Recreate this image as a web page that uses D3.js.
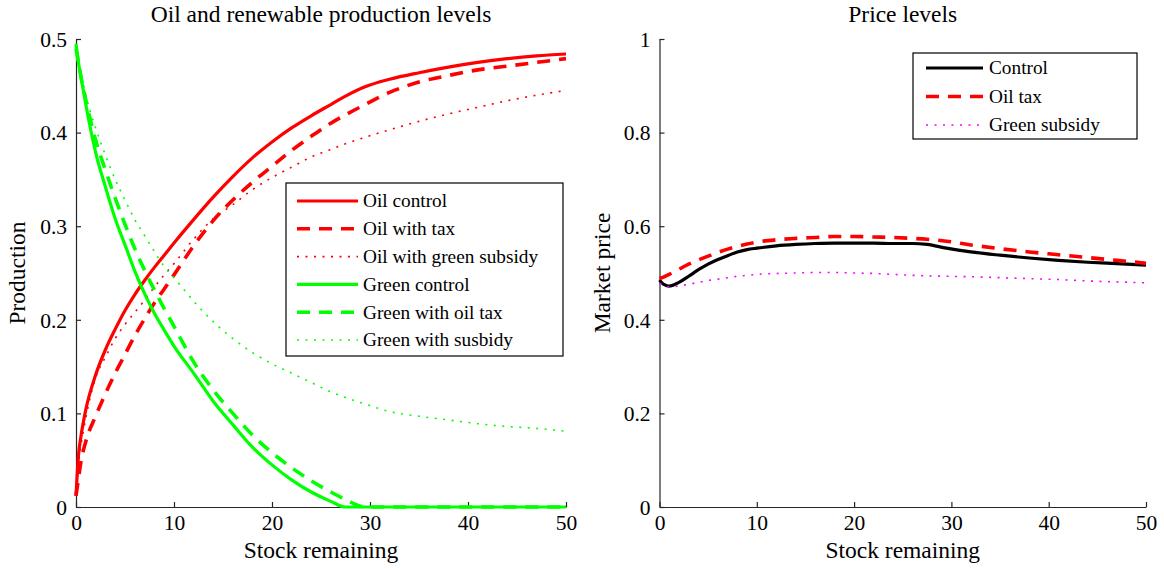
<!DOCTYPE html>
<html>
<head>
<meta charset="utf-8">
<script src="https://cdn.jsdelivr.net/npm/d3@7/dist/d3.min.js"></script>
<style>
  html, body { margin: 0; padding: 0; background: #fff; }
  svg { display: block; }
  text { font-family: "Liberation Serif", "Times New Roman", serif; fill: #000; }
</style>
</head>
<body>
<svg id="chart" width="1164" height="569"></svg>
<script>
// ---------- data ----------
const stock = [0, 0.25, 0.5, 1, 2, 3, 4, 5, 6, 7, 8, 9, 10, 12, 14, 16, 18, 20, 22, 24, 26, 27.5, 29.5, 32, 35, 38, 41, 44, 47, 50];

const oilControl   = [0.012, 0.055, 0.075, 0.104, 0.141, 0.168, 0.190, 0.210, 0.227, 0.242, 0.256, 0.269, 0.282, 0.307, 0.331, 0.353, 0.373, 0.390, 0.405, 0.418, 0.430, 0.439, 0.449, 0.457, 0.464, 0.470, 0.475, 0.479, 0.482, 0.484];
const oilTax       = [0.012, 0.030, 0.048, 0.070, 0.097, 0.121, 0.143, 0.163, 0.183, 0.201, 0.218, 0.233, 0.248, 0.279, 0.306, 0.328, 0.347, 0.364, 0.381, 0.396, 0.410, 0.419, 0.430, 0.443, 0.454, 0.461, 0.467, 0.471, 0.475, 0.479];
const oilSubsidy   = [0.015, 0.045, 0.065, 0.095, 0.138, 0.160, 0.180, 0.195, 0.208, 0.221, 0.235, 0.248, 0.260, 0.286, 0.308, 0.323, 0.339, 0.352, 0.363, 0.374, 0.382, 0.388, 0.395, 0.403, 0.412, 0.420, 0.427, 0.434, 0.440, 0.445];
const greenControl = [0.495, 0.475, 0.460, 0.430, 0.379, 0.342, 0.308, 0.280, 0.252, 0.228, 0.207, 0.189, 0.172, 0.143, 0.113, 0.088, 0.064, 0.045, 0.029, 0.016, 0.006, 0.000, 0.000, 0.000, 0.000, 0.000, 0.000, 0.000, 0.000, 0.000];
const greenTax     = [0.490, 0.475, 0.460, 0.435, 0.392, 0.360, 0.330, 0.302, 0.276, 0.253, 0.232, 0.212, 0.193, 0.155, 0.125, 0.100, 0.077, 0.058, 0.042, 0.028, 0.016, 0.008, 0.000, 0.000, 0.000, 0.000, 0.000, 0.000, 0.000, 0.000];
const greenSubsidy = [0.495, 0.480, 0.465, 0.440, 0.405, 0.376, 0.350, 0.328, 0.307, 0.290, 0.273, 0.257, 0.245, 0.220, 0.198, 0.180, 0.165, 0.153, 0.143, 0.133, 0.123, 0.117, 0.110, 0.102, 0.097, 0.093, 0.089, 0.086, 0.084, 0.081];

const priceControl = [0.485, 0.479, 0.475, 0.472, 0.480, 0.493, 0.507, 0.519, 0.529, 0.537, 0.545, 0.550, 0.553, 0.558, 0.561, 0.563, 0.564, 0.564, 0.564, 0.563, 0.563, 0.561, 0.553, 0.545, 0.538, 0.532, 0.527, 0.523, 0.520, 0.517];
const priceTax     = [0.489, 0.490, 0.492, 0.497, 0.508, 0.519, 0.528, 0.536, 0.544, 0.551, 0.557, 0.562, 0.566, 0.571, 0.574, 0.576, 0.578, 0.578, 0.577, 0.576, 0.574, 0.572, 0.568, 0.560, 0.552, 0.545, 0.539, 0.533, 0.527, 0.521];
const priceSubsidy = [0.478, 0.475, 0.472, 0.470, 0.472, 0.476, 0.480, 0.484, 0.487, 0.490, 0.493, 0.495, 0.497, 0.499, 0.500, 0.501, 0.501, 0.500, 0.499, 0.497, 0.495, 0.494, 0.493, 0.492, 0.490, 0.488, 0.486, 0.483, 0.481, 0.479];

const xTicks = [0, 10, 20, 30, 40, 50];
const xTickLabels = ["0", "10", "20", "30", "40", "50"];
const prodTicks = [0, 0.1, 0.2, 0.3, 0.4, 0.5];
const prodTickLabels = ["0", "0.1", "0.2", "0.3", "0.4", "0.5"];
const priceTicks = [0, 0.2, 0.4, 0.6, 0.8, 1];
const priceTickLabels = ["0", "0.2", "0.4", "0.6", "0.8", "1"];

const leftNames = ["Oil control", "Oil with tax", "Oil with green subsidy", "Green control", "Green with oil tax", "Green with susbidy"];
const rightNames = ["Control", "Oil tax", "Green subsidy"];

// ---------- styles ----------
const STY = {
  solid:  { w: 3.2, dash: null },
  dashed: { w: 3.6, dash: "13,9" },
  dotted: { w: 1.6, dash: "2,6.5" }
};
const leftSeries = [
  { name: leftNames[0], vals: oilControl,   color: "#ff0000", sty: "solid" },
  { name: leftNames[1], vals: oilTax,       color: "#ff0000", sty: "dashed" },
  { name: leftNames[2], vals: oilSubsidy,   color: "#ff0000", sty: "dotted" },
  { name: leftNames[3], vals: greenControl, color: "#00ff00", sty: "solid" },
  { name: leftNames[4], vals: greenTax,     color: "#00ff00", sty: "dashed" },
  { name: leftNames[5], vals: greenSubsidy, color: "#00ff00", sty: "dotted" }
];
const rightSeries = [
  { name: rightNames[0], vals: priceControl, color: "#000000", sty: "solid" },
  { name: rightNames[1], vals: priceTax,     color: "#ff0000", sty: "dashed" },
  { name: rightNames[2], vals: priceSubsidy, color: "#ff00ff", sty: "dotted" }
];

const svg = d3.select("#chart");
const FONT_TICK = 21.5, FONT_LABEL = 23.5, FONT_LEG = 19.3;

function panel(cfg) {
  const x = d3.scaleLinear().domain([0, 50]).range([cfg.x0, cfg.x1]);
  const y = d3.scaleLinear().domain(cfg.yDomain).range([507, 39]);
  const g = svg.append("g");

  const xa = g.append("g").attr("transform", "translate(0,507)")
    .call(d3.axisBottom(x).tickValues(xTicks).tickFormat((d, i) => xTickLabels[i])
      .tickSizeInner(-5).tickSizeOuter(0).tickPadding(7));
  const ya = g.append("g").attr("transform", `translate(${cfg.x0},0)`)
    .call(d3.axisLeft(y).tickValues(cfg.ticks).tickFormat((d, i) => cfg.tickLabels[i])
      .tickSizeInner(-5).tickSizeOuter(0).tickPadding(9));
  [xa, ya].forEach(a => {
    a.selectAll("path.domain").attr("stroke", "#262626").attr("stroke-width", 1.2);
    a.selectAll(".tick line").attr("stroke", "#262626").attr("stroke-width", 1.2);
    a.selectAll(".tick text").attr("font-size", FONT_TICK).attr("font-family", '"Liberation Serif", serif').attr("fill", "#000");
  });
  ya.selectAll(".tick text").attr("dy", "0.34em");
  xa.selectAll(".tick text").attr("dy", "0.74em");

  const line = d3.line().x((d, i) => x(stock[i])).y(d => y(d)).curve(d3.curveMonotoneX);
  cfg.series.forEach(s => {
    g.append("path").attr("d", line(s.vals)).attr("fill", "none")
      .attr("stroke", s.color).attr("stroke-width", STY[s.sty].w)
      .attr("stroke-dasharray", STY[s.sty].dash).attr("stroke-linejoin", "round");
  });

  g.append("text").attr("x", (cfg.x0 + cfg.x1) / 2).attr("y", 22).attr("text-anchor", "middle")
    .attr("font-size", FONT_LABEL).text(cfg.title);
  g.append("text").attr("x", (cfg.x0 + cfg.x1) / 2).attr("y", 558).attr("text-anchor", "middle")
    .attr("font-size", FONT_LABEL).text("Stock remaining");
  g.append("text").attr("transform", `translate(${cfg.ylabX},273) rotate(-90)`).attr("text-anchor", "middle")
    .attr("font-size", FONT_LABEL).text(cfg.ylabel);

  // legend
  const L = cfg.legend;
  const lg = g.append("g");
  lg.append("rect").attr("x", L.x).attr("y", L.y).attr("width", L.w).attr("height", L.h)
    .attr("fill", "#fff").attr("stroke", "#000").attr("stroke-width", 1.2);
  cfg.series.forEach((s, i) => {
    const yy = L.rowY0 + i * L.rowStep;
    lg.append("line").attr("x1", L.lx0).attr("x2", L.lx1).attr("y1", yy).attr("y2", yy)
      .attr("stroke", s.color).attr("stroke-width", STY[s.sty].w)
      .attr("stroke-dasharray", STY[s.sty].dash);
    lg.append("text").attr("x", L.tx).attr("y", yy).attr("dy", "0.33em")
      .attr("font-size", FONT_LEG).text(s.name);
  });
}

panel({
  x0: 76, x1: 566, yDomain: [0, 0.5], ticks: prodTicks, tickLabels: prodTickLabels,
  series: leftSeries, title: "Oil and renewable production levels", ylabel: "Production", ylabX: 25,
  legend: { x: 286, y: 183, w: 277, h: 173, rowY0: 201, rowStep: 27.8, lx0: 297, lx1: 358, tx: 363 }
});
panel({
  x0: 659.5, x1: 1146, yDomain: [0, 1], ticks: priceTicks, tickLabels: priceTickLabels,
  series: rightSeries, title: "Price levels", ylabel: "Market price", ylabX: 610,
  legend: { x: 913, y: 53, w: 224, h: 86, rowY0: 68, rowStep: 28.5, lx0: 926, lx1: 983, tx: 989 }
});
</script>
</body>
</html>
